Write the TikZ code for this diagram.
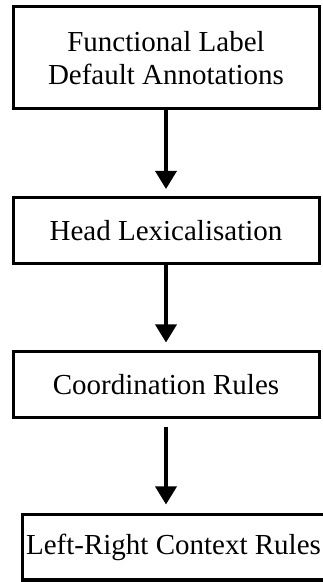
\documentclass[tikz,border=0pt]{standalone}
\usepackage{fontspec}
\setmainfont{Liberation Serif}
\usetikzlibrary{arrows.meta}
\begin{document}
\begin{tikzpicture}[x=1pt,y=1pt,
  stagebox/.style={draw=black, line width=3pt, fill=white, inner sep=0pt,
    align=center, font=\fontsize{29}{33}\selectfont},
  stagetext/.style={inner sep=0pt, align=center, font=\fontsize{29}{33}\selectfont},
  flowarrow/.style={line width=3.4pt,
    -{Triangle[width=21pt,length=18pt]}}]
  \useasboundingbox (0,0) rectangle (322,582);
  \node[stagebox, minimum width=306pt, minimum height=101.5pt] (fl) at (166,524.25)
    {Functional Label\\Default Annotations};
  \node[stagebox, minimum width=306pt, minimum height=66.5pt] (hl) at (166,351.25)
    {Head Lexicalisation};
  \node[stagebox, minimum width=306pt, minimum height=65.5pt] (cr) at (166,197.25)
    {Coordination Rules};
  % last box runs past the right edge of the page
  \node[stagebox, minimum width=316pt, minimum height=65pt] (lr) at (180.5,34.5) {};
  \node[stagetext] (lrtext) at (173.5,34.5) {Left-Right Context Rules};
  \draw[flowarrow, shorten >=7pt] (fl.south) -- (hl.north);
  \draw[flowarrow, shorten >=8pt] (hl.south) -- (cr.north);
  \draw[flowarrow, shorten <=8pt, shorten >=9pt] (cr.south) -- (cr.south |- lr.north);
\end{tikzpicture}
\end{document}
